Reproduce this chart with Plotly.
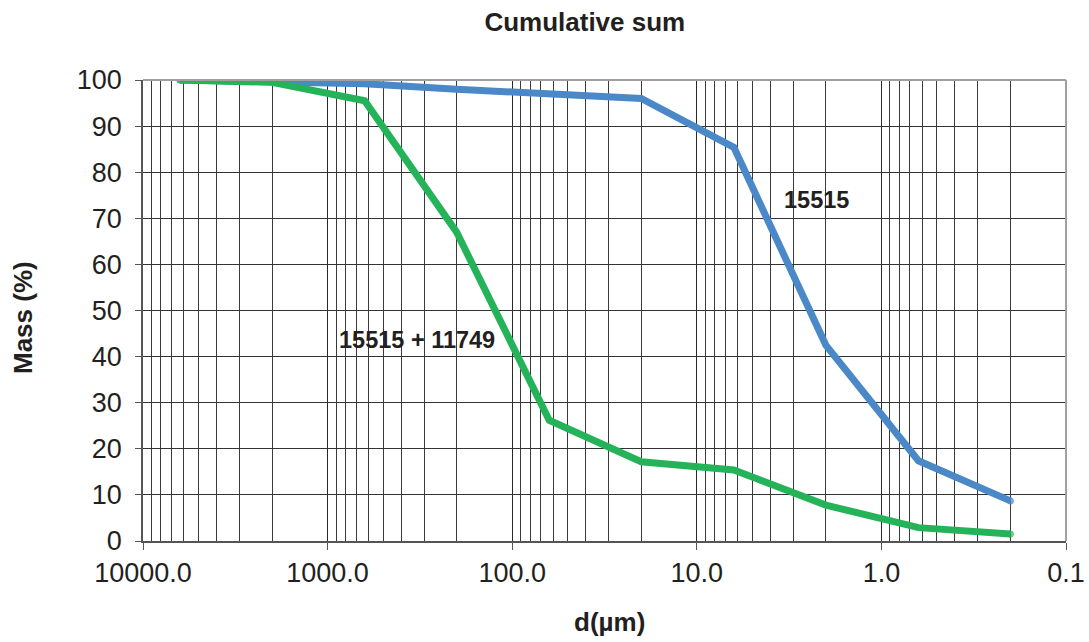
import numpy as np
import plotly.graph_objects as go

# Data
d_um = [6300, 2000, 630, 200, 63, 20, 6.3, 2.0, 0.63, 0.2]
mass_15515 = [100, 99.7, 99.2, 98.0, 97.0, 96.0, 85.4, 42.5, 17.4, 8.7]
mass_mix = [100, 99.5, 95.5, 67.0, 26.2, 17.2, 15.4, 7.8, 2.9, 1.5]

x_tickvals = [10000, 1000, 100, 10, 1, 0.1]
x_ticktext = ["10000.0", "1000.0", "100.0", "10.0", "1.0", "0.1"]
y_tickvals = list(range(0, 101, 10))

FONT = "Liberation Sans, Arial, sans-serif"
TXT = "#231f20"

# round-cap look: small markers only at the line ends
end_sizes = [7] + [0] * (len(d_um) - 2) + [7]

fig = go.Figure()
fig.add_trace(go.Scatter(x=d_um, y=mass_15515, mode="lines+markers",
                         line=dict(color="#4a88c8", width=7),
                         marker=dict(size=end_sizes, color="#4a88c8", line=dict(width=0)),
                         name="15515"))
fig.add_trace(go.Scatter(x=d_um, y=mass_mix, mode="lines+markers",
                         line=dict(color="#25b35a", width=7),
                         marker=dict(size=end_sizes, color="#25b35a", line=dict(width=0)),
                         name="15515 + 11749"))

fig.update_layout(
    width=1089, height=642,
    margin=dict(l=143, r=23, t=80, b=101, autoexpand=False),
    paper_bgcolor="white", plot_bgcolor="white",
    showlegend=False,
    font=dict(family=FONT, color=TXT, size=25),
    title=dict(text="<b>Cumulative sum</b>", x=0.537, y=1 - 22 / 642,
               xanchor="center", yanchor="middle",
               font=dict(size=26, family=FONT, color=TXT)),
)

fig.update_xaxes(
    type="log", range=[4, -1], automargin=False,
    tickvals=x_tickvals, ticktext=x_ticktext,
    ticks="outside", ticklen=7, tickcolor="#555",
    showgrid=True, gridcolor="#2a2a2a", gridwidth=1,
    minor=dict(dtick="D1", showgrid=True, gridcolor="#3a3a3a", gridwidth=1, ticks=""),
    showline=True, linecolor="#555", linewidth=2, mirror=False,
    tickfont=dict(size=27, family=FONT, color=TXT),
    zeroline=False,
)
fig.update_yaxes(
    range=[0, 100], tickvals=y_tickvals, automargin=False,
    ticks="outside", ticklen=6, tickcolor="#555", ticklabelstandoff=8,
    showgrid=True, gridcolor="#333", gridwidth=1,
    showline=True, linecolor="#555", linewidth=1.5,
    tickfont=dict(size=27, family=FONT, color=TXT),
    zeroline=False,
)

# plot border top/right (light gray)
fig.add_shape(type="line", xref="paper", yref="paper", x0=0, x1=1, y0=1, y1=1,
              line=dict(color="#a0a0a0", width=2))
fig.add_shape(type="line", xref="paper", yref="paper", x0=1, x1=1, y0=0, y1=1,
              line=dict(color="#a0a0a0", width=2))

# Series labels
fig.add_annotation(x=np.log10(2.26), y=74.0, text="<b>15515</b>", showarrow=False,
                   font=dict(size=23.5, family=FONT, color=TXT))
fig.add_annotation(x=np.log10(327), y=43.6, text="<b>15515 + 11749</b>", showarrow=False,
                   font=dict(size=23.5, family=FONT, color=TXT))

# Axis titles
fig.add_annotation(xref="paper", yref="paper", x=(609.5 - 143) / 923, y=(541 - 622) / 461,
                   text="<b>d(µm)</b>", showarrow=False, xanchor="center", yanchor="middle",
                   font=dict(size=26, family=FONT, color=TXT))
fig.add_annotation(xref="paper", yref="paper", x=(23 - 143) / 923, y=(541 - 318) / 461,
                   text="<b>Mass (%)</b>", showarrow=False, textangle=-90,
                   xanchor="center", yanchor="middle",
                   font=dict(size=26, family=FONT, color=TXT))

fig.write_html("out.html")
